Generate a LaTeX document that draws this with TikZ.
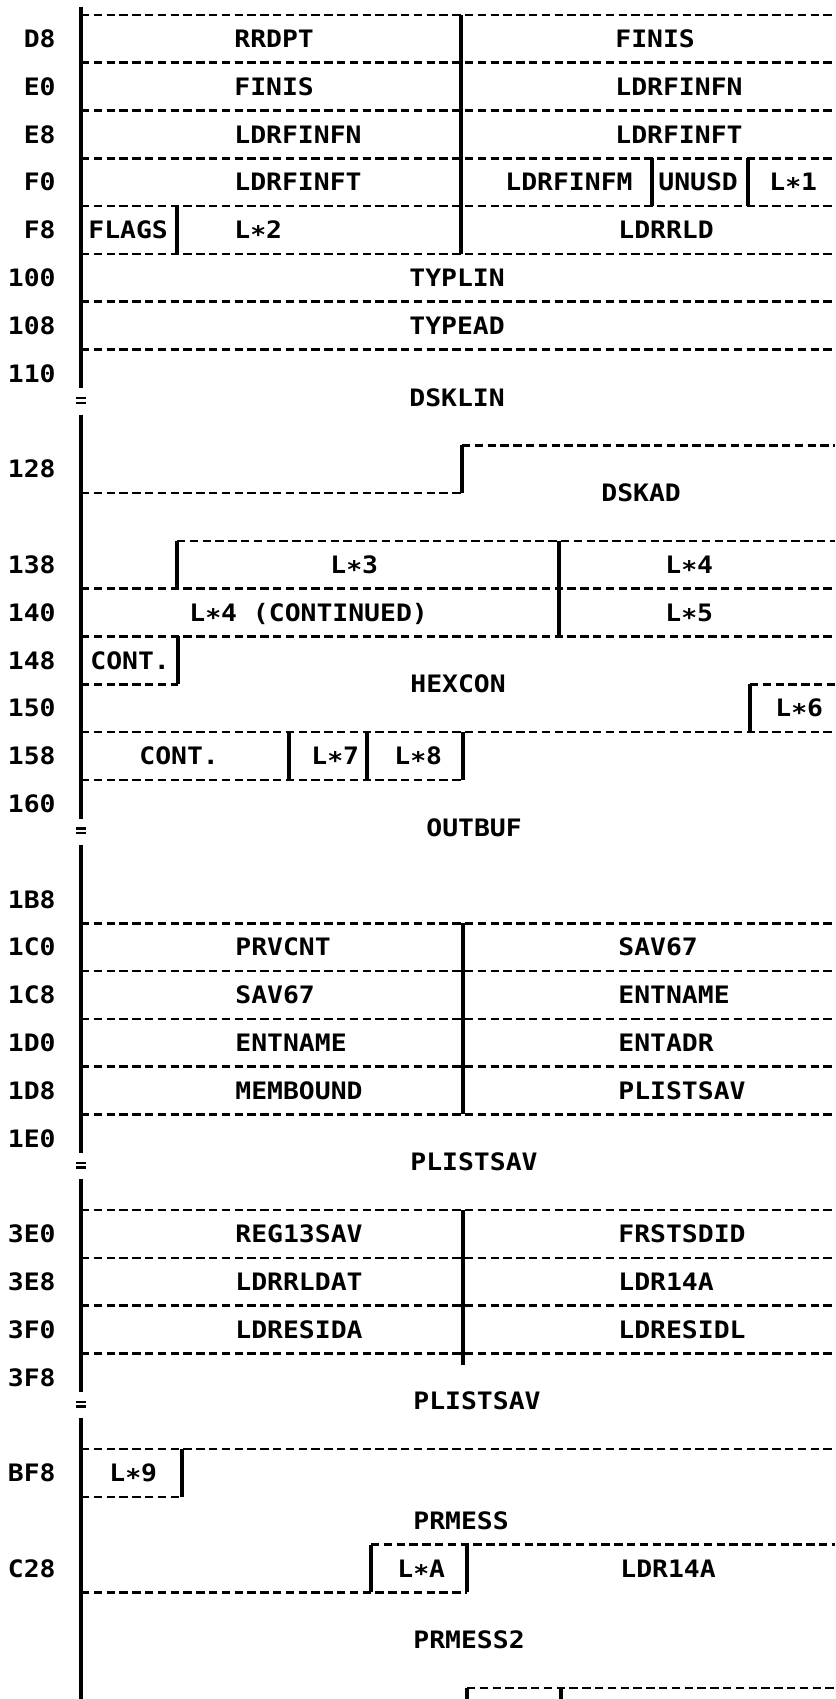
\documentclass[tikz,border=0pt]{standalone}
\usepackage{fontspec}
\newfontfamily\dumpfont{DejaVu Sans Mono}[FakeStretch=1.1]

\begin{document}
\begin{tikzpicture}[x=0.5pt, y=-23.9pt,
    field/.style={anchor=west, inner sep=0pt, text height=8.7pt, text depth=0pt,
      font=\dumpfont\bfseries\fontsize{12pt}{14pt}\selectfont},
    addr/.style={field, anchor=east},
    rule/.style={line width=1.3pt, dash pattern=on 4.2pt off 2.2pt},
    wall/.style={line width=1.6pt}]
  \useasboundingbox (0,-0.3138) rectangle (835,35.23);

  % offsets down the left side
  \foreach \lbl/\r in {D8/0.5, E0/1.5, E8/2.5, F0/3.5, F8/4.5, 100/5.5, 108/6.5, 110/7.5,
      128/9.5, 138/11.5, 140/12.5, 148/13.5, 150/14.5, 158/15.5, 160/16.5,
      1B8/18.5, 1C0/19.5, 1C8/20.5, 1D0/21.5, 1D8/22.5, 1E0/23.5,
      3E0/25.5, 3E8/26.5, 3F0/27.5, 3F8/28.5, BF8/30.5, C28/32.5}
    \node[addr] (off\lbl) at (56,\r) {\lbl};

  % spine with the = breaks
  \draw[wall] (81,-0.17) -- (81,7.81) (81,8.36) -- (81,16.81) (81,17.36) -- (81,23.81)
    (81,24.36) -- (81,28.81) (81,29.36) -- (81,35.3);
  \foreach \r in {8,17,24,29}
    \draw[line width=1.1pt] (76,\r+0.02) -- (86,\r+0.02) (76,\r+0.11) -- (86,\r+0.11);

  % full width rules
  \foreach \r in {0,1,2,3,4,5,6,7,12,13,15,19,20,21,22,23,25,26,27,28,30}
    \draw[rule] (81,\r) -- (835,\r);
  % partial rules
  \draw[rule] (462,9) -- (835,9);
  \draw[rule] (81,10) -- (462,10);
  \draw[rule] (177,11) -- (835,11);
  \draw[rule] (81,14) -- (178,14);
  \draw[rule] (750,14) -- (835,14);
  \draw[rule] (81,16) -- (463,16);
  \draw[rule] (81,31) -- (182,31);
  \draw[rule] (371,32) -- (835,32);
  \draw[rule] (81,33) -- (467,33);
  \draw[rule] (467,35) -- (835,35);

  % field boundaries
  \draw[wall] (461,0) -- (461,5);
  \draw[wall] (652,3) -- (652,4);
  \draw[wall] (748,3) -- (748,4);
  \draw[wall] (177,4) -- (177,5);
  \draw[wall] (462,9) -- (462,10);
  \draw[wall] (177,11) -- (177,12);
  \draw[wall] (559,11) -- (559,13);
  \draw[wall] (178,13) -- (178,14);
  \draw[wall] (750,14) -- (750,15);
  \foreach \x in {289,367,463}
    \draw[wall] (\x,15) -- (\x,16);
  \draw[wall] (463,19) -- (463,23);
  \draw[wall] (463,25) -- (463,28.25);
  \draw[wall] (182,30) -- (182,31);
  \draw[wall] (371,32) -- (371,33);
  \draw[wall] (467,32) -- (467,33);
  \draw[wall] (467,35) -- (467,35.3);
  \draw[wall] (561,35) -- (561,35.3);

  % field names
  \node[field] (rrdpt) at (234,0.5) {RRDPT};
  \node[field] (finisr) at (615,0.5) {FINIS};
  \node[field] (finisl) at (234,1.5) {FINIS};
  \node[field] (finfnr) at (615,1.5) {LDRFINFN};
  \node[field] (finfnl) at (234,2.5) {LDRFINFN};
  \node[field] (finftr) at (615,2.5) {LDRFINFT};
  \node[field] (finftl) at (234,3.5) {LDRFINFT};
  \node[field] (finfm) at (505,3.5) {LDRFINFM};
  \node[field] (unusd) at (658,3.5) {UNUSD};
  \node[field] (lst1) at (769,3.5) {L∗1};
  \node[field] (flags) at (88,4.5) {FLAGS};
  \node[field] (lst2) at (234,4.5) {L∗2};
  \node[field] (rrld) at (618,4.5) {LDRRLD};
  \node[field] (typlin) at (409,5.5) {TYPLIN};
  \node[field] (typead) at (409,6.5) {TYPEAD};
  \node[field] (dsklin) at (409,8) {DSKLIN};
  \node[field] (dskad) at (601,10) {DSKAD};
  \node[field] (lst3) at (330,11.5) {L∗3};
  \node[field] (lst4) at (665,11.5) {L∗4};
  \node[field] (lst4c) at (189,12.5) {L∗4 (CONTINUED)};
  \node[field] (lst5) at (665,12.5) {L∗5};
  \node[field] (conta) at (90,13.5) {CONT.};
  \node[field] (hexcon) at (410,14) {HEXCON};
  \node[field] (lst6) at (775,14.5) {L∗6};
  \node[field] (contb) at (139,15.5) {CONT.};
  \node[field] (lst7) at (311,15.5) {L∗7};
  \node[field] (lst8) at (394,15.5) {L∗8};
  \node[field] (outbuf) at (426,17) {OUTBUF};
  \node[field] (prvcnt) at (235,19.5) {PRVCNT};
  \node[field] (sav67r) at (618,19.5) {SAV67};
  \node[field] (sav67l) at (235,20.5) {SAV67};
  \node[field] (entnmr) at (618,20.5) {ENTNAME};
  \node[field] (entnml) at (235,21.5) {ENTNAME};
  \node[field] (entadr) at (618,21.5) {ENTADR};
  \node[field] (membnd) at (235,22.5) {MEMBOUND};
  \node[field] (plistr) at (618,22.5) {PLISTSAV};
  \node[field] (plista) at (410,24) {PLISTSAV};
  \node[field] (reg13) at (235,25.5) {REG13SAV};
  \node[field] (frstsd) at (618,25.5) {FRSTSDID};
  \node[field] (rldat) at (235,26.5) {LDRRLDAT};
  \node[field] (r14a) at (618,26.5) {LDR14A};
  \node[field] (resida) at (235,27.5) {LDRESIDA};
  \node[field] (residl) at (618,27.5) {LDRESIDL};
  \node[field] (plistb) at (413,29) {PLISTSAV};
  \node[field] (lst9) at (109,30.5) {L∗9};
  \node[field] (prmess) at (413,31.5) {PRMESS};
  \node[field] (lsta) at (397,32.5) {L∗A};
  \node[field] (r14b) at (620,32.5) {LDR14A};
  \node[field] (prmess2) at (413,34) {PRMESS2};
\end{tikzpicture}
\end{document}
